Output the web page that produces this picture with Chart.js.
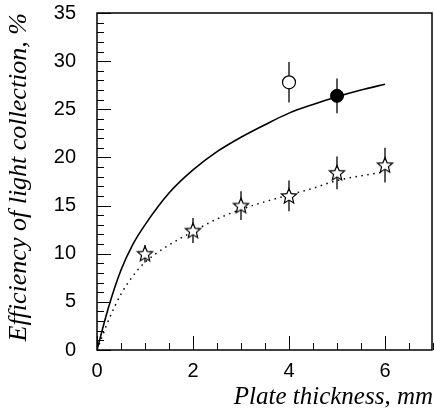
<!DOCTYPE html>
<html>
<head>
<meta charset="utf-8">
<script src="https://cdn.jsdelivr.net/npm/chart.js@4.4.1/dist/chart.umd.min.js"></script>
<style>
  html, body { margin: 0; padding: 0; background: #fff; overflow: hidden; }
  #wrap { width: 434px; height: 413px; }
  canvas { display: block; }
</style>
</head>
<body>
<div id="wrap"><canvas id="chart"></canvas></div>
<script>
// Measured points (open stars) with errors
const starX = [1, 2, 3, 4, 5, 6];
const starY = [10.0, 12.4, 15.0, 16.0, 18.4, 19.2];
const starErr = [0.9, 1.3, 1.5, 1.6, 1.7, 1.8];

// Open circle and filled circle
const openX = [4];
const openY = [27.8];
const openErr = [2.1];
const fullX = [5];
const fullY = [26.4];
const fullErr = [1.8];

// Curves
const curveX = [0, 0.1, 0.25, 0.5, 0.75, 1, 1.5, 2, 2.5, 3, 3.5, 4, 4.5, 5, 5.5, 6];
const solidY = [0, 1.9, 4.6, 8.3, 11.0, 13.0, 16.3, 18.7, 20.6, 22.1, 23.4, 24.6, 25.5, 26.3, 27.0, 27.6];
const dottedY = [0, 1.3, 3.2, 5.8, 7.7, 9.1, 10.9, 12.3, 13.6, 14.6, 15.4, 16.1, 16.8, 17.6, 18.1, 18.5];

// Tick labels
const xTicks = [0, 2, 4, 6];
const yTicks = [0, 5, 10, 15, 20, 25, 30, 35];

function pts(xs, ys) {
  return xs.map((x, i) => ({ x: x, y: ys[i] }));
}

// open five-point star used as point style
function makeStar(r) {
  const s = Math.ceil(r * 2 + 4);
  const c = document.createElement("canvas");
  c.width = s;
  c.height = s;
  const g = c.getContext("2d");
  g.beginPath();
  for (let k = 0; k < 10; k++) {
    const rr = k % 2 ? r * 0.45 : r;
    const a = -Math.PI / 2 + (k * Math.PI) / 5;
    g.lineTo(s / 2 + rr * Math.cos(a), s / 2 + 0.5 + rr * Math.sin(a));
  }
  g.closePath();
  g.fillStyle = "#fff";
  g.fill();
  g.lineWidth = 1.2;
  g.strokeStyle = "#000";
  g.stroke();
  return c;
}

// error bars, frame and inward ticks
const extras = {
  id: "extras",
  beforeDatasetsDraw(chart) {
    const ctx = chart.ctx;
    const ys = chart.scales.y;
    ctx.save();
    ctx.strokeStyle = "#000";
    ctx.lineWidth = 1.3;
    chart.data.datasets.forEach((ds, i) => {
      if (!ds.errors) return;
      const meta = chart.getDatasetMeta(i);
      meta.data.forEach((p, j) => {
        const v = ds.data[j].y;
        ctx.beginPath();
        ctx.moveTo(p.x, ys.getPixelForValue(v + ds.errors[j]));
        ctx.lineTo(p.x, ys.getPixelForValue(v - ds.errors[j]));
        ctx.stroke();
      });
    });
    ctx.restore();
  },
  afterDraw(chart) {
    const ctx = chart.ctx;
    const a = chart.chartArea;
    const xs = chart.scales.x;
    const ys = chart.scales.y;
    ctx.save();
    ctx.strokeStyle = "#000";
    ctx.lineWidth = 1;
    ctx.beginPath();
    for (let v = 0; v <= 35; v++) {
      const y = Math.round(ys.getPixelForValue(v)) + 0.5;
      const len = v % 5 === 0 ? 14 : 7;
      ctx.moveTo(a.left, y);
      ctx.lineTo(a.left + len, y);
    }
    for (let k = 0; k <= 14; k++) {
      const v = k / 2;
      const x = Math.round(xs.getPixelForValue(v)) + 0.5;
      const len = xTicks.includes(v) ? 14 : 7;
      ctx.moveTo(x, a.bottom);
      ctx.lineTo(x, a.bottom - len);
    }
    ctx.stroke();
    ctx.lineWidth = 1.5;
    ctx.strokeRect(a.left, a.top, a.right - a.left - 1, a.bottom - a.top);
    ctx.restore();
  },
};

function noPad(s) {
  s.paddingTop = 0;
  s.paddingBottom = 0;
  s.paddingLeft = 0;
  s.paddingRight = 0;
}

const ctx = document.getElementById("chart").getContext("2d");
new Chart(ctx, {
  type: "scatter",
  data: {
    datasets: [
      {
        data: pts(starX, starY),
        errors: starErr,
        pointStyle: makeStar(8),
        pointRadius: 8,
        order: 0,
      },
      {
        data: pts(openX, openY),
        errors: openErr,
        pointStyle: "circle",
        pointRadius: 6.5,
        backgroundColor: "#fff",
        borderColor: "#000",
        borderWidth: 1.2,
        order: 0,
      },
      {
        data: pts(fullX, fullY),
        errors: fullErr,
        pointStyle: "circle",
        pointRadius: 6.5,
        backgroundColor: "#000",
        borderColor: "#000",
        borderWidth: 1,
        order: 0,
      },
      {
        data: pts(curveX, solidY),
        showLine: true,
        pointRadius: 0,
        borderColor: "#000",
        borderWidth: 1.6,
        cubicInterpolationMode: "monotone",
        order: 1,
      },
      {
        data: pts(curveX, dottedY),
        showLine: true,
        pointRadius: 0,
        borderColor: "#000",
        borderWidth: 1.5,
        borderDash: [1.5, 4.5],
        cubicInterpolationMode: "monotone",
        order: 1,
      },
    ],
  },
  options: {
    responsive: true,
    maintainAspectRatio: false,
    animation: false,
    events: [],
    layout: { autoPadding: false, padding: { top: 13, right: 1, left: 0, bottom: 0 } },
    plugins: { legend: { display: false }, tooltip: { enabled: false } },
    scales: {
      x: {
        type: "linear",
        min: 0,
        max: 7,
        grid: { display: false, drawTicks: false },
        border: { display: false },
        afterBuildTicks: (s) => { s.ticks = xTicks.map((v) => ({ value: v })); },
        afterFit: (s) => { s.height = 63; noPad(s); },
        ticks: {
          padding: 9,
          color: "#000",
          font: { family: "Liberation Sans", size: 20 },
          maxRotation: 0,
        },
        title: {
          display: true,
          text: "Plate thickness, mm",
          align: "end",
          color: "#000",
          padding: { top: 0, bottom: 1 },
          font: { family: "Liberation Serif", size: 25, style: "italic" },
        },
      },
      y: {
        min: 0,
        max: 35,
        grid: { display: false, drawTicks: false },
        border: { display: false },
        afterBuildTicks: (s) => { s.ticks = yTicks.map((v) => ({ value: v })); },
        afterFit: (s) => { s.width = 97; noPad(s); },
        ticks: {
          padding: 21,
          color: "#000",
          font: { family: "Liberation Sans", size: 20 },
        },
        title: {
          display: true,
          text: "Efficiency of light collection, %",
          align: "end",
          color: "#000",
          padding: { top: 4, bottom: 0 },
          font: { family: "Liberation Serif", size: 26, style: "italic" },
        },
      },
    },
  },
  plugins: [extras],
});
</script>
</body>
</html>
